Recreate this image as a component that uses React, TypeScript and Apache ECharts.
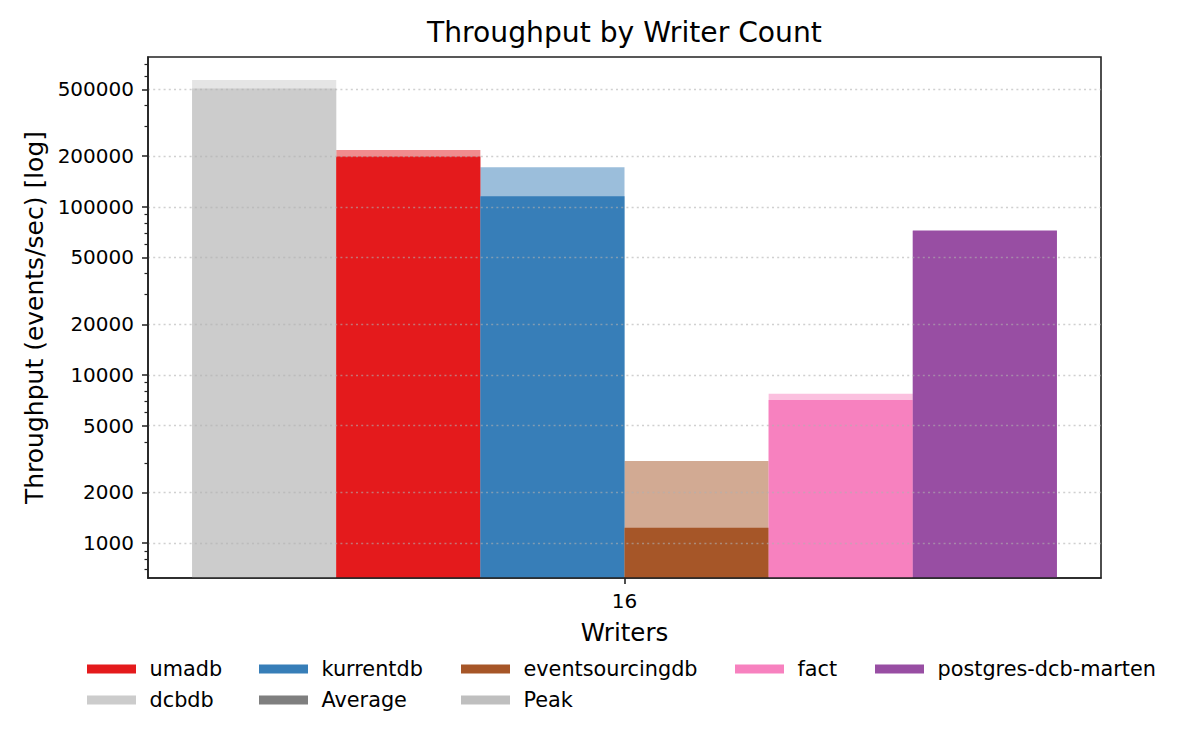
import React, { useEffect, useRef } from 'react';
import * as echarts from 'echarts';

const categories = ['16'];
const databases = ['dcbdb', 'umadb', 'kurrentdb', 'eventsourcingdb', 'fact', 'postgres-dcb-marten'];
const averageThroughput = [505000, 199500, 115500, 1235, 7100, 71700];
const peakThroughput = [567000, 217500, 172000, 3080, 7720, 72700];
const colors = ['#cccccc', '#e41a1c', '#377eb8', '#a65628', '#f781bf', '#984ea3'];
const majorTicks = [1000, 2000, 5000, 10000, 20000, 50000, 100000, 200000, 500000];
const minorTicks = [700, 800, 900, 3000, 4000, 6000, 7000, 8000, 9000, 30000, 40000, 60000, 70000, 80000, 90000, 300000, 400000, 600000, 700000];
const legendKeys = ['Average', 'Peak'];
const legendKeyColors = ['#7f7f7f', '#bfbfbf'];

const FONT = 'DejaVu Sans';
const Y_MIN = 620;
const Y_MAX = 778000;

// legend layout (positions only)
const legendLayout = [
  { name: 'umadb', left: 87, row: 0 },
  { name: 'kurrentdb', left: 259, row: 0 },
  { name: 'eventsourcingdb', left: 461, row: 0 },
  { name: 'fact', left: 735, row: 0 },
  { name: 'postgres-dcb-marten', left: 875, row: 0 },
  { name: 'dcbdb', left: 87, row: 1 },
  { name: 'Average', left: 259, row: 1 },
  { name: 'Peak', left: 461, row: 1 },
];
const rowCenters = [669, 700];

export default function App() {
  const ref = useRef<HTMLDivElement>(null);

  useEffect(() => {
    if (!ref.current) return;
    const chart = echarts.init(ref.current, null, { renderer: 'svg' });

    const peakSeries = databases.map((name, i) => ({
      type: 'bar',
      name: name + ' (peak)',
      xAxisIndex: 1,
      yAxisIndex: 0,
      data: [peakThroughput[i]],
      barGap: '0%',
      barCategoryGap: '9.25%',
      itemStyle: { color: colors[i], opacity: 0.5 },
      z: 2,
      silent: true,
    }));
    const avgSeries = databases.map((name, i) => ({
      type: 'bar',
      name,
      xAxisIndex: 0,
      yAxisIndex: 0,
      data: [averageThroughput[i]],
      barGap: '0%',
      barCategoryGap: '9.25%',
      itemStyle: { color: colors[i] },
      z: 3,
      silent: true,
    }));
    const keySeries = legendKeys.map((name, i) => ({
      type: 'bar',
      name,
      xAxisIndex: 2,
      yAxisIndex: 0,
      data: [],
      itemStyle: { color: legendKeyColors[i] },
    }));

    const legends = legendLayout.map((l) => ({
      data: [l.name],
      left: l.left,
      top: rowCenters[l.row] - 10.5,
      padding: 0,
      icon: 'rect',
      itemWidth: 49,
      itemHeight: 9,
      selectedMode: false,
      textStyle: { fontFamily: FONT, fontSize: 20.8, color: '#000', lineHeight: 21, padding: [0, 0, 0, 8.5] },
    }));

    chart.setOption({
      animation: false,
      backgroundColor: '#fff',
      title: {
        text: 'Throughput by Writer Count',
        left: 427,
        top: 18.2,
        padding: 0,
        textStyle: { fontFamily: FONT, fontSize: 28.2, fontWeight: 'normal', color: '#000' },
      },
      legend: legends,
      grid: {
        left: 148,
        right: 99,
        top: 57,
        bottom: 172,
        show: true,
        borderColor: '#222',
        borderWidth: 1.6,
        backgroundColor: 'transparent',
        outerBoundsMode: 'none',
        containLabel: false,
      },
      xAxis: [
        {
          type: 'category',
          data: categories,
          position: 'bottom',
          z: 5,
          name: 'Writers',
          nameLocation: 'middle',
          nameGap: 42,
          nameTextStyle: { fontFamily: FONT, fontSize: 24.5, color: '#000' },
          axisLine: { show: true, lineStyle: { color: '#222', width: 1.6 } },
          axisTick: { show: true, alignWithLabel: true, length: 6, lineStyle: { color: '#222', width: 1.6 } },
          axisLabel: { fontFamily: FONT, fontSize: 20, color: '#000', margin: 13 },
          splitLine: { show: false },
        },
        { type: 'category', data: categories, position: 'bottom', show: false },
        { type: 'category', data: categories, position: 'bottom', show: false },
      ],
      yAxis: [
        {
          type: 'log',
          logBase: 10,
          min: Y_MIN,
          max: Y_MAX,
          position: 'left',
          z: 5,
          name: 'Throughput (events/sec) [log]',
          nameLocation: 'middle',
          nameGap: 101,
          nameTextStyle: { fontFamily: FONT, fontSize: 25, color: '#000' },
          axisLine: { show: true, lineStyle: { color: '#222', width: 1.6 } },
          axisTick: { show: true, customValues: majorTicks, length: 6, lineStyle: { color: '#222', width: 1.5 } },
          axisLabel: {
            customValues: majorTicks,
            fontFamily: FONT,
            fontSize: 20,
            color: '#000',
            margin: 14,
            formatter: (v: number) => String(Math.round(v)),
          },
          splitLine: {
            show: true,
            lineStyle: { color: 'rgba(176,176,176,0.6)', width: 1.3, type: [2, 3.2] },
          },
        },
        {
          type: 'log',
          logBase: 10,
          min: Y_MIN,
          max: Y_MAX,
          position: 'left',
          offset: 0,
          z: 5,
          axisLine: { show: false },
          axisTick: { show: true, customValues: minorTicks, length: 3.5, lineStyle: { color: '#222', width: 1.2 } },
          axisLabel: { show: false },
          splitLine: { show: false },
        },
      ],
      series: [...peakSeries, ...avgSeries, ...keySeries],
    });

    return () => chart.dispose();
  }, []);

  return (
    <div
      ref={ref}
      style={{ position: 'fixed', left: 0, top: 0, width: 1200, height: 750, background: '#fff' }}
    />
  );
}
